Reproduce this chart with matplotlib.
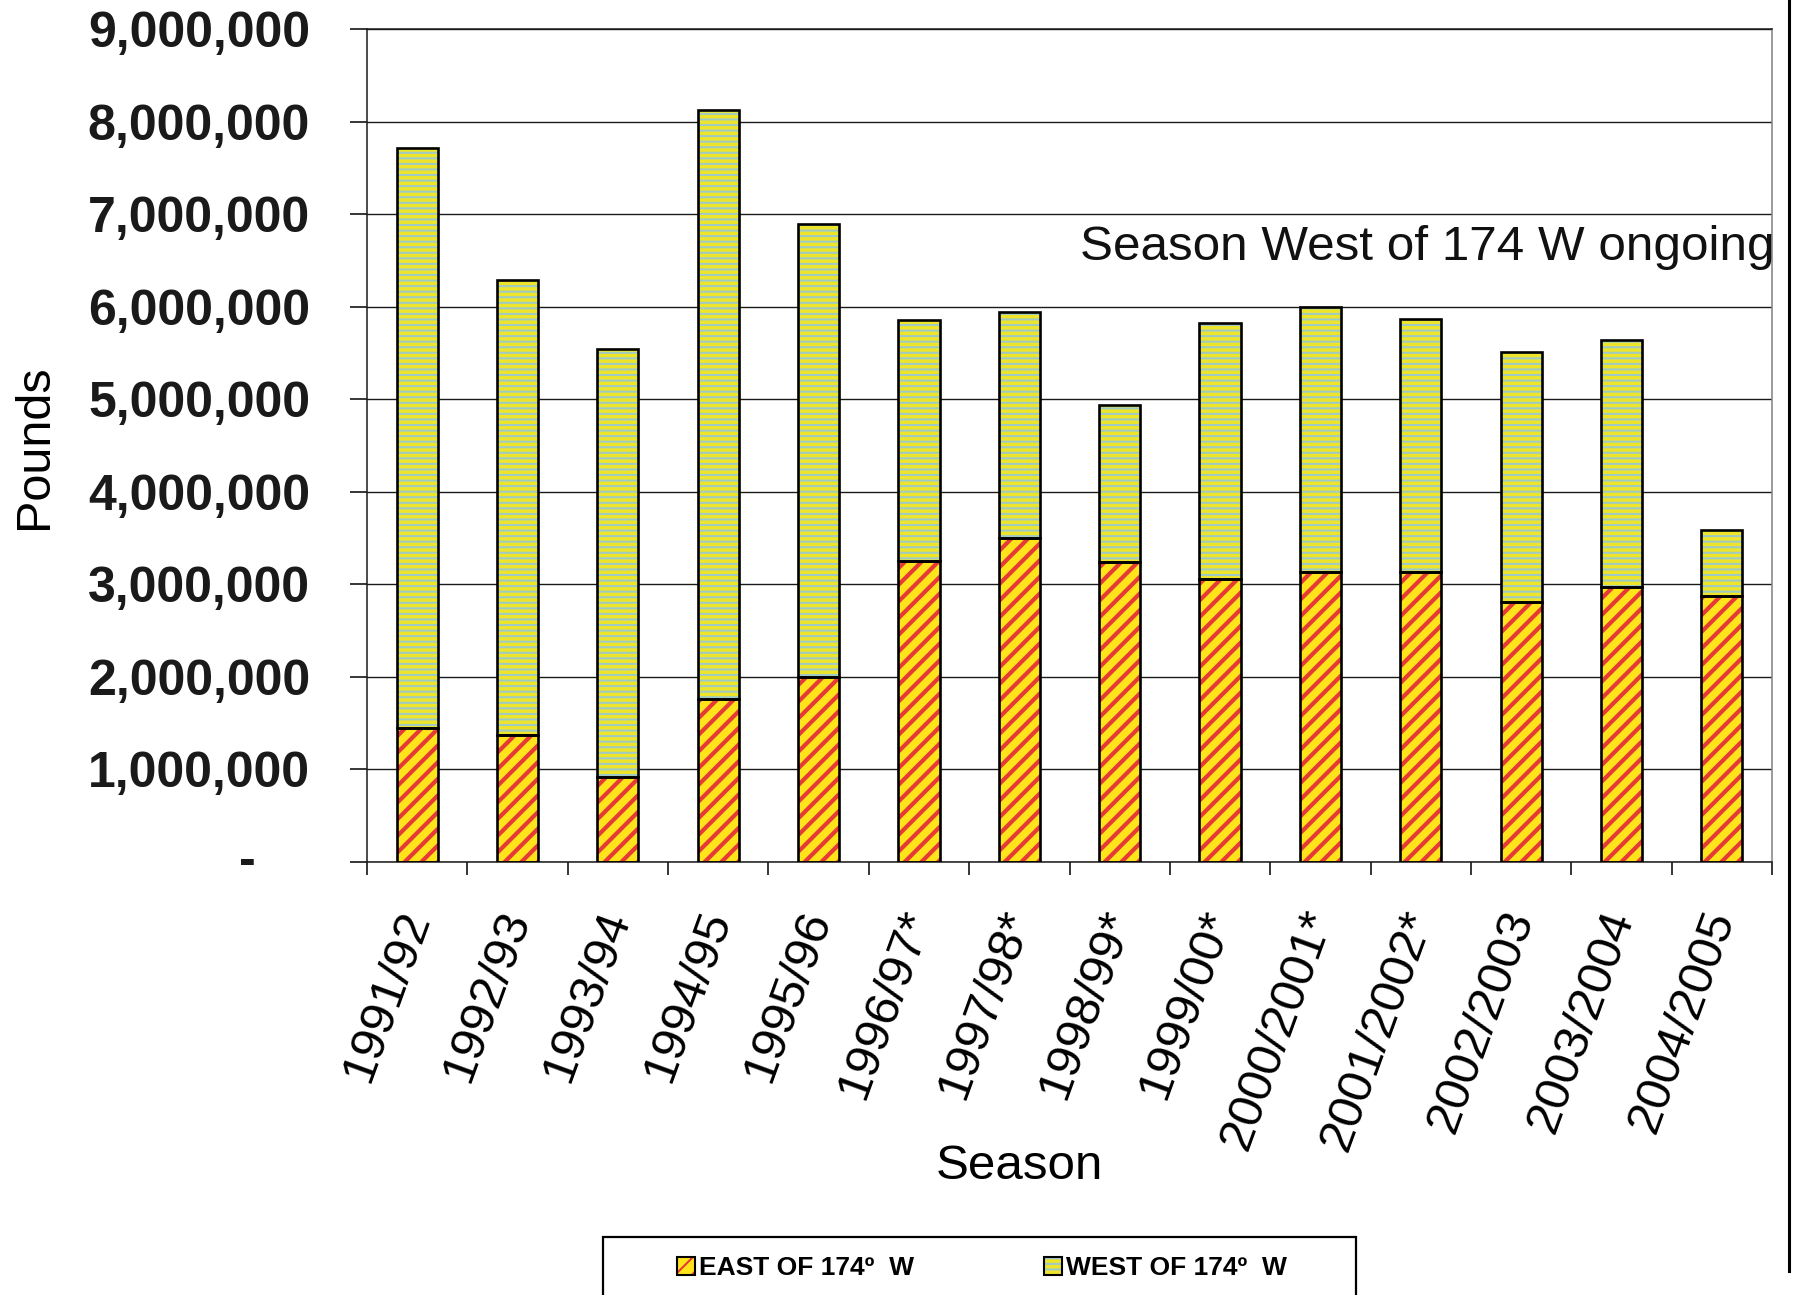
import matplotlib
matplotlib.use("Agg")
import matplotlib.pyplot as plt
import numpy as np
from matplotlib.patches import Patch, Rectangle
from matplotlib.lines import Line2D
from matplotlib.transforms import blended_transform_factory
from matplotlib.legend_handler import HandlerTuple

plt.rcParams['font.family'] = ['Liberation Sans', 'DejaVu Sans']

# Harvest by season, pounds
seasons = ["1991/92", "1992/93", "1993/94", "1994/95", "1995/96", "1996/97*",
           "1997/98*", "1998/99*", "1999/00*", "2000/2001*", "2001/2002*",
           "2002/2003", "2003/2004", "2004/2005"]
east = [1450000, 1370000, 920000, 1760000, 1995000, 3256000, 3504000,
        3243000, 3058000, 3133000, 3133000, 2806000, 2968000, 2877000]
west = [6260000, 4914000, 4622000, 6366000, 4895000, 2596000, 2435000,
        1694000, 2769000, 2867000, 2731000, 2700000, 2674000, 710000]
y_ticks = [0, 1000000, 2000000, 3000000, 4000000, 5000000, 6000000,
           7000000, 8000000, 9000000]
legend_labels = ["EAST OF 174º  W", "WEST OF 174º  W"]
note = "Season West of 174 W ongoing"

RED = "#E63A36"
YEL = "#FFE41C"
WYEL = "#EEE52A"
TEAL = "#9FCBC4"
EAST_HLW = 3.0
WEST_HLW = 1.5

W, H = 1794, 1295
fig = plt.figure(figsize=(W / 100, H / 100), dpi=100)
ax = fig.add_axes([367 / W, 1 - 862 / H, (1772 - 367) / W, (862 - 29) / H])

x = np.arange(len(seasons))
bw = 0.41
east_a = np.array(east)
west_a = np.array(west)


def set_hlw(patches, lw):
    for p in patches:
        if hasattr(p, "set_hatch_linewidth"):
            p.set_hatch_linewidth(lw)


plt.rcParams['hatch.linewidth'] = EAST_HLW
e_fill = ax.bar(x, east_a, bw, color=YEL, edgecolor=RED, hatch="//",
                linewidth=0, zorder=2)
set_hlw(e_fill, EAST_HLW)
plt.rcParams['hatch.linewidth'] = WEST_HLW
w_fill = ax.bar(x, west_a, bw, bottom=east_a, color=WYEL, edgecolor=TEAL,
                hatch="---", linewidth=0, zorder=2)
set_hlw(w_fill, WEST_HLW)
ax.bar(x, east_a, bw, fill=False, edgecolor="black", linewidth=1.9, zorder=3)
ax.bar(x, west_a, bw, bottom=east_a, fill=False, edgecolor="black",
       linewidth=1.9, zorder=3)

ax.set_xlim(-0.5, len(seasons) - 0.5)
ax.set_ylim(0, 9000000)

# y axis
ax.set_yticks(y_ticks)
ax.set_yticklabels(["" if v == 0 else f"{v:,.0f}" for v in y_ticks],
                   fontsize=36, fontweight="bold", color="#1a1a1a")
ax.tick_params(axis="y", direction="out", length=12, width=1.1, pad=29)
ax.yaxis.grid(True, color="#1a1a1a", linewidth=1.0, zorder=0)
ax.set_axisbelow(True)
tr = blended_transform_factory(ax.transAxes, ax.transData)
ax.text(-0.0854, 0, "-", transform=tr, fontsize=36, fontweight="bold",
        ha="center", va="center", color="#1a1a1a")

# x axis: boundary ticks, centred labels
ax.set_xticks(np.arange(-0.5, len(seasons), 1.0), minor=True)
ax.set_xticks(x)
ax.set_xticklabels(seasons, fontsize=35.5, rotation=70, ha="right",
                   va="center", rotation_mode="anchor")
ax.tick_params(axis="x", which="minor", direction="out", length=9.5,
               width=1.1)
ax.tick_params(axis="x", which="major", length=0, pad=36)

for s in ("left", "bottom", "top"):
    ax.spines[s].set_color("#1a1a1a")
    ax.spines[s].set_linewidth(1.1)
ax.spines["right"].set_color("#808080")
ax.spines["right"].set_linewidth(1.1)

ax.set_xlabel("Season", fontsize=35.5, va="center")
ax.xaxis.set_label_coords(0.464, -0.366)
ax.set_ylabel("Pounds", fontsize=35, va="center", ha="center")
ax.yaxis.set_label_coords(-0.237, 0.499)

ax.text(1.002, 6640000, note, transform=tr, fontsize=35.6, ha="right",
        va="center", color="#111111")

# legend
plt.rcParams['hatch.linewidth'] = EAST_HLW
le_fill = Patch(facecolor=YEL, edgecolor=RED, hatch="//", linewidth=0)
set_hlw([le_fill], EAST_HLW)
plt.rcParams['hatch.linewidth'] = WEST_HLW
lw_fill = Patch(facecolor=WYEL, edgecolor=TEAL, hatch="---", linewidth=0)
set_hlw([lw_fill], WEST_HLW)
h_east = (le_fill, Patch(fill=False, edgecolor="black", linewidth=1.5))
h_west = (lw_fill, Patch(fill=False, edgecolor="black", linewidth=1.5))
leg = fig.legend([h_east, h_west], legend_labels, ncol=2, loc="center",
                 bbox_to_anchor=(982 / W, 1 - 1268 / H), frameon=False,
                 prop={"size": 19, "weight": "bold"}, handlelength=0.7,
                 handleheight=0.7, handletextpad=0.15, columnspacing=4.9,
                 handler_map={tuple: HandlerTuple(ndivide=1, pad=0)})
fig.add_artist(Rectangle((603 / W, -0.05), (1356 - 603) / W,
                         0.05 + 1 - 1237 / H, transform=fig.transFigure,
                         fill=False, edgecolor="black", linewidth=1.6))

# page border on the right
fig.add_artist(Line2D([1789 / W, 1789 / W], [1 - 1271 / H, 1.0],
                      transform=fig.transFigure, color="black", linewidth=2.2))

fig.savefig("out.png", dpi=100, facecolor="white")
